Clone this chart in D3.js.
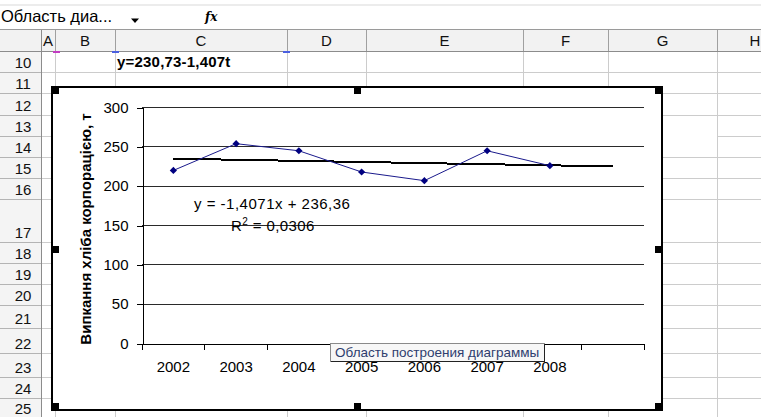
<!DOCTYPE html>
<html>
<head>
<meta charset="utf-8">
<script src="https://cdn.jsdelivr.net/npm/d3@7"></script>
<style>
  html, body { margin: 0; padding: 0; background: #fff; overflow: hidden; }
  svg { display: block; }
</style>
</head>
<body>
<svg id="sheet" width="761" height="417"></svg>
<script>
// ---- Chart data ----
const years = ["2002", "2003", "2004", "2005", "2006", "2007", "2008"];
const output = [220, 254, 245, 218, 207, 245, 226];   // bread baked, t
const trendSlope = -1.4071;
const trendIntercept = 236.36;
const rSquared = 0.0306;
const forecastForward = 1;                           // trend extended one period ahead
const yTicks = [0, 50, 100, 150, 200, 250, 300];
const axisTitle = "Випкання хліба корпорацією, т";
const nameBoxText = "Область диа...";
const tooltipText = "Область построения диаграммы";

// ---- Sheet layout ----
const colEdges = [0, 41, 55, 115, 287, 366, 523, 608, 717, 793];
const colNames = ["", "A", "B", "C", "D", "E", "F", "G", "H"];
const rowEdges = [51, 72, 93, 115, 136, 157, 178, 199, 242, 263, 284, 305, 328, 353, 377, 398, 418];
const firstRow = 10;

const W = 761, H = 417;
const FONT = "'Liberation Sans', Arial, sans-serif";
const loc = d3.formatLocale({ decimal: ",", thousands: "\u00a0", grouping: [3], currency: ["", ""], minus: "-" });
const f4 = loc.format(".4f"), f2 = loc.format(".2f"), f3 = loc.format(".3f");

const svg = d3.select("#sheet").attr("font-family", FONT);
svg.append("rect").attr("width", W).attr("height", H).attr("fill", "#fff");

// ---- Formula bar ----
svg.append("rect").attr("x", 0).attr("y", 4).attr("width", W).attr("height", 2).attr("fill", "#ececec");
svg.append("text").attr("x", 1).attr("y", 22).attr("font-size", 16.5).attr("fill", "#000").text(nameBoxText);
svg.append("path").attr("d", "M131,18.5L139,18.5L135,23Z").attr("fill", "#000");
svg.append("text").attr("x", 205).attr("y", 21).attr("font-size", 12)
  .attr("font-family", "'DejaVu Serif', serif").attr("font-style", "italic").attr("font-weight", "bold")
  .text("fx");

// ---- Cell grid ----
const grid = svg.append("g").attr("stroke", "#cccccc").attr("shape-rendering", "crispEdges");
rowEdges.slice(1).forEach((yy, i) => {
  const rowAbove = firstRow + i;
  if (rowAbove === 13) {           // G13:G14 is merged
    grid.append("line").attr("x1", 41).attr("x2", 608).attr("y1", yy + 0.5).attr("y2", yy + 0.5);
    grid.append("line").attr("x1", 717).attr("x2", W).attr("y1", yy + 0.5).attr("y2", yy + 0.5);
  } else {
    grid.append("line").attr("x1", 41).attr("x2", W).attr("y1", yy + 0.5).attr("y2", yy + 0.5);
  }
});
colEdges.slice(2).forEach(xx => {
  grid.append("line").attr("x1", xx + 0.5).attr("x2", xx + 0.5).attr("y1", 51).attr("y2", H);
});

// ---- Column headers ----
const colHead = svg.append("g").attr("shape-rendering", "crispEdges");
colHead.append("rect").attr("x", 0).attr("y", 29.5).attr("width", W).attr("height", 21.5)
  .attr("fill", "#f2f2f2").attr("stroke", "none");
colHead.append("line").attr("x1", 0).attr("x2", W).attr("y1", 29.5).attr("y2", 29.5).attr("stroke", "#9a9a9a");
colHead.append("line").attr("x1", 0).attr("x2", W).attr("y1", 51.5).attr("y2", 51.5).attr("stroke", "#8c8c8c");
colEdges.slice(1).forEach(xx => {
  colHead.append("line").attr("x1", xx + 0.5).attr("x2", xx + 0.5).attr("y1", 30).attr("y2", 51)
    .attr("stroke", "#a0a0a0");
});
colNames.forEach((n, i) => {
  if (!n) return;
  colHead.append("text").attr("x", (colEdges[i] + colEdges[i + 1]) / 2).attr("y", 46)
    .attr("text-anchor", "middle").attr("font-size", 15).attr("fill", "#111").text(n);
});
// range markers in the header
colHead.append("rect").attr("x", 53).attr("y", 51).attr("width", 7).attr("height", 2).attr("fill", "#c23cc2");
colHead.append("rect").attr("x", 112).attr("y", 51).attr("width", 7).attr("height", 2).attr("fill", "#4a5fe0");
colHead.append("rect").attr("x", 283).attr("y", 51).attr("width", 7).attr("height", 2).attr("fill", "#4a5fe0");

// ---- Row headers ----
const rowHead = svg.append("g").attr("shape-rendering", "crispEdges");
rowHead.append("rect").attr("x", 0).attr("y", 52).attr("width", 41).attr("height", H - 52).attr("fill", "#f4f4f4");
rowHead.append("line").attr("x1", 41.5).attr("x2", 41.5).attr("y1", 30).attr("y2", H).attr("stroke", "#8c8c8c");
rowEdges.slice(1).forEach((yy, i) => {
  rowHead.append("line").attr("x1", 0).attr("x2", 41).attr("y1", yy + 0.5).attr("y2", yy + 0.5).attr("stroke", "#b4b4b4");
  rowHead.append("text").attr("x", 23).attr("y", yy - 4.5).attr("text-anchor", "middle")
    .attr("font-size", 15).attr("fill", "#111").text(firstRow + i);
});

// ---- Cell C10: trend formula with centred time ----
const meanT = (years.length + 1) / 2;
svg.append("text").attr("x", 117).attr("y", 67).attr("font-size", 15).attr("font-weight", "bold")
  .attr("letter-spacing", 0.2)
  .text(`y=${f2(trendIntercept + trendSlope * meanT)}-${f3(-trendSlope)}t`);

// ---- Chart area ----
svg.append("rect").attr("x", 52).attr("y", 87).attr("width", 610).attr("height", 323)
  .attr("fill", "#fff").attr("stroke", "#000").attr("stroke-width", 2).attr("shape-rendering", "crispEdges");

const periods = d3.range(1, years.length + forecastForward + 1);
const x = d3.scaleBand().domain(periods).range([142, 644]).padding(0);
const y = d3.scaleLinear().domain([0, 300]).range([343.5, 107.5]);
const cx = t => x(t) + x.bandwidth() / 2;

const plot = svg.append("g");

// horizontal gridlines
plot.append("g").selectAll("line").data(yTicks.filter(v => v > 0)).join("line")
  .attr("x1", 142).attr("x2", 644).attr("y1", d => y(d)).attr("y2", d => y(d))
  .attr("stroke", "#2a2a2a").attr("stroke-width", 1).attr("shape-rendering", "crispEdges");

// value axis
const yAxisG = plot.append("g").attr("transform", "translate(142.5,0)")
  .call(d3.axisLeft(y).tickValues(yTicks).tickSize(6).tickSizeOuter(0).tickPadding(8).tickFormat(d3.format("d")));
yAxisG.attr("font-family", FONT).attr("font-size", 15);
yAxisG.selectAll("path,line").attr("stroke", "#000").attr("shape-rendering", "crispEdges");
yAxisG.selectAll("text").attr("fill", "#000");

// category axis: ticks between periods, labels centred
const xAxisG = plot.append("g").attr("transform", `translate(0,${y(0)})`)
  .call(d3.axisBottom(x).tickSize(0).tickPadding(18).tickFormat(t => years[t - 1] || ""));
xAxisG.attr("font-family", FONT).attr("font-size", 15);
xAxisG.select(".domain").attr("stroke", "#000").attr("shape-rendering", "crispEdges");
xAxisG.selectAll("text").attr("fill", "#000");
xAxisG.selectAll(".sep").data(periods.map(t => x(t)).concat([x.range()[1]])).join("line")
  .attr("class", "sep").attr("x1", d => d).attr("x2", d => d).attr("y1", 0).attr("y2", 6)
  .attr("stroke", "#000").attr("shape-rendering", "crispEdges");

// linear trend
const trendPts = periods.map(t => [cx(t), y(trendSlope * t + trendIntercept)]);
plot.append("path").attr("d", d3.line()(trendPts)).attr("fill", "none")
  .attr("stroke", "#000").attr("stroke-width", 2).attr("shape-rendering", "crispEdges");

// output series
const series = output.map((v, i) => [cx(i + 1), y(v)]);
plot.append("path").attr("d", d3.line()(series)).attr("fill", "none")
  .attr("stroke", "#1a1a8c").attr("stroke-width", 1);
plot.append("g").selectAll("path").data(series).join("path")
  .attr("d", d3.symbol(d3.symbolSquare, 26)())
  .attr("transform", d => `translate(${d[0]},${d[1]}) rotate(45)`)
  .attr("fill", "#000080");

// trend equation and R²
plot.append("text").attr("x", 194).attr("y", 209).attr("font-size", 15).attr("letter-spacing", 0.5)
  .text(`y = ${f4(trendSlope)}x + ${f2(trendIntercept)}`);
const r2 = plot.append("text").attr("x", 231).attr("y", 231).attr("font-size", 15).attr("letter-spacing", 0.4);
r2.append("tspan").text("R");
r2.append("tspan").attr("dy", -6).attr("font-size", 10).text("2");
r2.append("tspan").attr("dy", 6).text(` = ${f4(rSquared)}`);

// axis title
plot.append("text").attr("transform", "translate(91,229) rotate(-90)").attr("text-anchor", "middle")
  .attr("font-size", 15).attr("font-weight", "bold").text(axisTitle);

// selection handles
const hx = [52, 354, 655], hy = [87, 246, 403];
const handles = [];
hx.forEach((a, i) => hy.forEach((b, j) => { if (!(i === 1 && j === 1)) handles.push([a, b]); }));
svg.append("g").selectAll("rect").data(handles).join("rect")
  .attr("x", d => d[0]).attr("y", d => d[1]).attr("width", 7).attr("height", 7).attr("fill", "#000");

// hover tip over the plot area
const tip = svg.append("g").attr("shape-rendering", "crispEdges");
tip.append("rect").attr("x", 330.5).attr("y", 343.5).attr("width", 214).attr("height", 18)
  .attr("fill", "#f7f7f7").attr("stroke", "#8a8a8a");
tip.append("path").attr("d", "M544.5,343.5V361.5H330.5").attr("fill", "none").attr("stroke", "#222");
tip.append("text").attr("x", 335).attr("y", 357).attr("font-size", 13.5).attr("fill", "#2e3d6e").text(tooltipText);
</script>
</body>
</html>
